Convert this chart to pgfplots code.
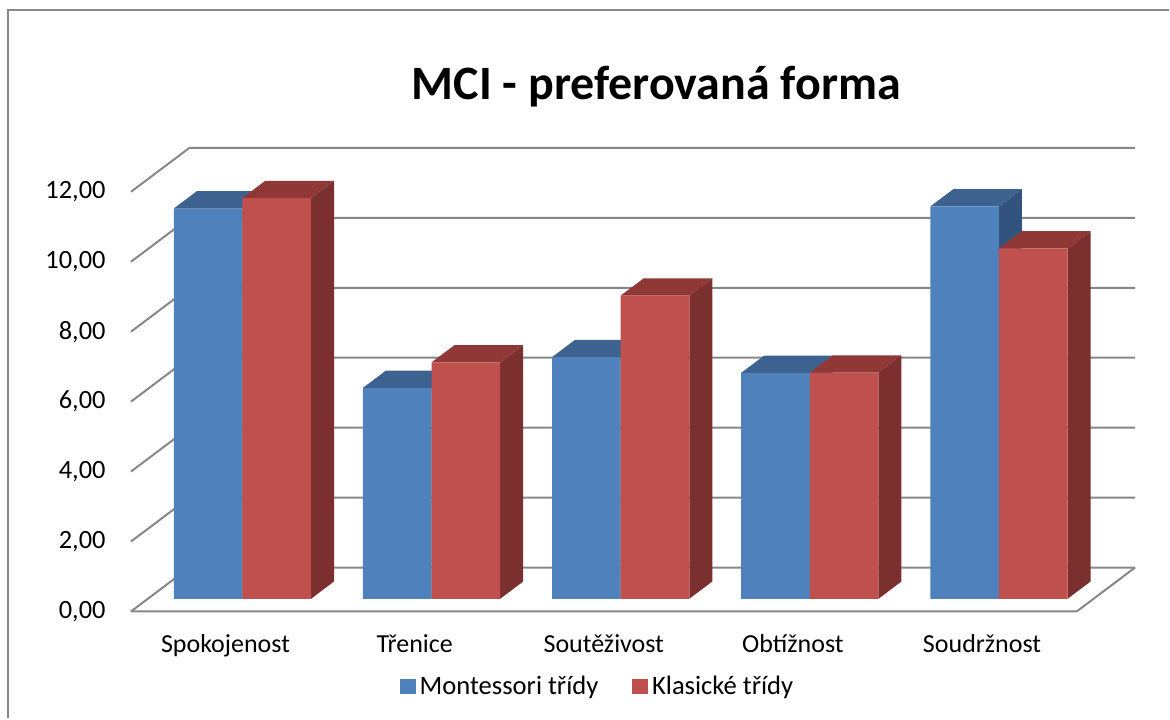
\documentclass[border=0pt]{standalone}
\usepackage{pgfplots}
\pgfplotsset{compat=1.18}
\usepackage{fontspec}
\setmainfont{Carlito}

\definecolor{bfront}{HTML}{4F81BD}
\definecolor{btop}{HTML}{3D6290}
\definecolor{bside}{HTML}{32537E}
\definecolor{rfront}{HTML}{C0504D}
\definecolor{rtop}{HTML}{8F3836}
\definecolor{rside}{HTML}{7B302F}
\definecolor{gridc}{HTML}{878787}

% top and side faces of one 3-D column: #1 left edge of front face, #2 value, #3 top colour, #4 side colour
\newcommand\cubfaces[4]{%
  \pgfmathsetmacro\xa{#1}%
  \pgfmathsetmacro\xb{#1+0.3629}%
  \pgfmathsetmacro\xc{#1+0.3629+0.1215}%
  \pgfmathsetmacro\xd{#1+0.1215}%
  \pgfmathsetmacro\va{#2}%
  \pgfmathsetmacro\vb{#2+0.494}%
  \edef\doit{%
    \noexpand\addplot[fill=#4,draw=none,forget plot] coordinates {(\xb,0) (\xc,0.494) (\xc,\vb) (\xb,\va)} --cycle;
    \noexpand\addplot[fill=#3,draw=none,forget plot] coordinates {(\xa,\va) (\xb,\va) (\xc,\vb) (\xd,\vb)} --cycle;
  }\doit
}

\begin{document}
\begin{tikzpicture}
\begin{axis}[
  scale only axis,
  width=585bp, height=359.5bp,
  xmin=-1.2816, xmax=4.899,
  ymin=-3.42, ymax=17.123,
  clip=false,
  axis line style={draw=none},
  tick style={draw=none},
  major tick length=0pt,
  xtick={-0.0893,0.9107,1.9107,2.9107,3.9107},
  xticklabels={Spokojenost,Třenice,Soutěživost,Obtížnost,Soudržnost},
  ytick={-0.363,1.637,3.637,5.637,7.637,9.637,11.637},
  yticklabels={{0,00},{2,00},{4,00},{6,00},{8,00},{10,00},{12,00}},
  xticklabel style={font=\fontsize{13bp}{15bp}\selectfont, anchor=base, inner sep=0pt, yshift=33bp},
  yticklabel style={font=\fontsize{13.2bp}{15bp}\selectfont, anchor=east, inner sep=0pt, xshift=53bp},
  legend style={at={(rel axis cs:0.512,0.0445)}, anchor=center, draw=none, fill=none,
    font=\fontsize{13.3bp}{15bp}\selectfont, legend columns=2,
    /tikz/every odd column/.append style={column sep=0bp},
    /tikz/every even column/.append style={column sep=15bp}},
]
% walls and floor
\addplot[gridc, line width=1bp, forget plot] coordinates {(-0.5893,-0.363) (-0.2803,0.894) (4.7197,0.894)};
\addplot[gridc, line width=1bp, forget plot] coordinates {(-0.5893,1.637) (-0.2803,2.894) (4.7197,2.894)};
\addplot[gridc, line width=1bp, forget plot] coordinates {(-0.5893,3.637) (-0.2803,4.894) (4.7197,4.894)};
\addplot[gridc, line width=1bp, forget plot] coordinates {(-0.5893,5.637) (-0.2803,6.894) (4.7197,6.894)};
\addplot[gridc, line width=1bp, forget plot] coordinates {(-0.5893,7.637) (-0.2803,8.894) (4.7197,8.894)};
\addplot[gridc, line width=1bp, forget plot] coordinates {(-0.5893,9.637) (-0.2803,10.894) (4.7197,10.894)};
\addplot[gridc, line width=1bp, forget plot] coordinates {(-0.5893,11.637) (-0.2803,12.894) (4.7197,12.894)};
\addplot[gridc, line width=1bp, forget plot] coordinates {(-0.5893,-0.363) (4.4107,-0.363) (4.7197,0.894)};

% Montessori tridy
\cubfaces{-0.3629}{11.16}{btop}{bside}
\cubfaces{0.6371}{6.03}{btop}{bside}
\cubfaces{1.6371}{6.91}{btop}{bside}
\cubfaces{2.6371}{6.46}{btop}{bside}
\cubfaces{3.6371}{11.22}{btop}{bside}
\addplot[ybar, bar width=0.3629, bar shift=-0.18145, fill=bfront, draw=none, forget plot]
  coordinates {(0,11.16) (1,6.03) (2,6.91) (3,6.46) (4,11.22)};

% Klasicke tridy
\cubfaces{0}{11.46}{rtop}{rside}
\cubfaces{1}{6.76}{rtop}{rside}
\cubfaces{2}{8.67}{rtop}{rside}
\cubfaces{3}{6.47}{rtop}{rside}
\cubfaces{4}{10.02}{rtop}{rside}
\addplot[ybar, bar width=0.3629, bar shift=0.18145, fill=rfront, draw=none, forget plot]
  coordinates {(0,11.46) (1,6.76) (2,8.67) (3,6.47) (4,10.02)};

% chart area border
\addplot[gridc, line width=1bp, forget plot] coordinates {(-1.2393,-3.42) (-1.2393,16.851) (4.899,16.851)};

\addlegendimage{legend image code/.code={\fill[bfront] (0bp,-3.3bp) rectangle (7.5bp,3.7bp);}}
\addlegendentry{Montessori třídy}
\addlegendimage{legend image code/.code={\fill[rfront] (0bp,-3.3bp) rectangle (7.5bp,3.7bp);}}
\addlegendentry{Klasické třídy}

\node[font=\fontsize{24bp}{28bp}\selectfont\bfseries, anchor=base] at (rel axis cs:0.5615,0.8609) {MCI - preferovaná forma};
\end{axis}
\end{tikzpicture}
\end{document}
